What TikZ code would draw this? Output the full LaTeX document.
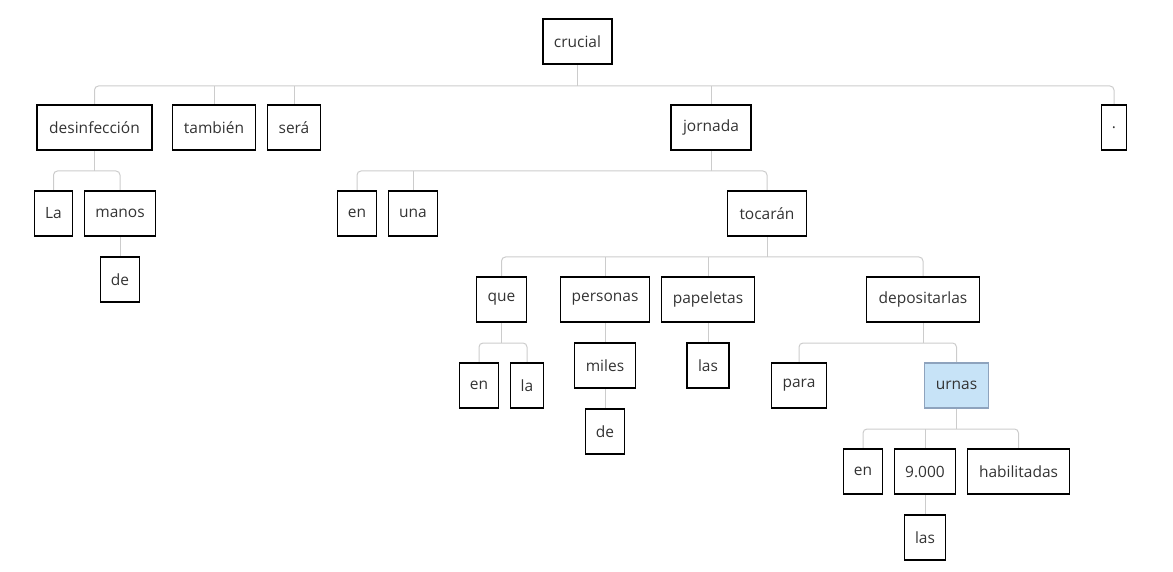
\documentclass[tikz,border=0pt]{standalone}
\usepackage{fontspec}
\setmainfont{Open Sans}
\usetikzlibrary{backgrounds}
\definecolor{txt}{HTML}{333333}
\definecolor{conncol}{HTML}{CCCCCC}
\definecolor{hlfill}{HTML}{C7E3F7}
\definecolor{hldraw}{HTML}{8EA3BD}
\tikzset{
  wbox/.style={draw=black, line width=1.2pt, text=txt, minimum height=45pt, inner xsep=1pt, inner ysep=0pt, font=\fontsize{15.5}{18}\selectfont, anchor=center},
  hlbox/.style={wbox, fill=hlfill, draw=hldraw},
  conn/.style={draw=conncol, line width=1pt},
  bus/.style={conn, rounded corners=4pt},
}
\begin{document}
\begin{tikzpicture}[x=1pt, y=-1pt]
\useasboundingbox (0,0) rectangle (1173,572);
% nodes
\node[wbox, minimum width=69pt] (crucial) at (577.5,41.5) {crucial};
\node[wbox, minimum width=115pt] (desinf) at (94.5,127.5) {desinfección};
\node[wbox, minimum width=83pt] (tambien) at (214,127.5) {también};
\node[wbox, minimum width=53pt] (sera) at (294,127.5) {será};
\node[wbox, minimum width=80pt] (jornada) at (711,127.5) {jornada};
\node[wbox, minimum width=25pt] (punto) at (1114,127.5) {.};
\node[wbox, minimum width=38pt] (la1) at (53.5,213.5) {La};
\node[wbox, minimum width=71pt] (manos) at (120,213.5) {manos};
\node[wbox, minimum width=39pt] (de1) at (120,279.5) {de};
\node[wbox, minimum width=39pt] (en1) at (357,213.5) {en};
\node[wbox, minimum width=49pt] (una) at (413,213.5) {una};
\node[wbox, minimum width=79pt] (tocaran) at (767,213.5) {tocarán};
\node[wbox, minimum width=50pt] (que) at (501.5,299.5) {que};
\node[wbox, minimum width=89pt] (personas) at (605,299.5) {personas};
\node[wbox, minimum width=93pt] (papeletas) at (708,299.5) {papeletas};
\node[wbox, minimum width=113pt] (deposit) at (923,299.5) {depositarlas};
\node[wbox, minimum width=39pt] (en2) at (479,385.5) {en};
\node[wbox, minimum width=33pt] (la2) at (527,385.5) {la};
\node[wbox, minimum width=61pt] (miles) at (605,365.5) {miles};
\node[wbox, minimum width=39pt] (de2) at (605,431.5) {de};
\node[wbox, minimum width=42pt] (las1) at (708,365.5) {las};
\node[wbox, minimum width=55pt] (para) at (799,385.5) {para};
\node[hlbox, minimum width=64pt] (urnas) at (956.5,385.5) {urnas};
\node[wbox, minimum width=39pt] (en3) at (863,471.5) {en};
\node[wbox, minimum width=61pt] (nueve) at (925,471.5) {9.000};
\node[wbox, minimum width=102pt] (habil) at (1018.5,471.5) {habilitadas};
\node[wbox, minimum width=41pt] (las2) at (925,537.5) {las};
% bus levels
\coordinate (b0) at (0,86);
\coordinate (b1) at (0,171);
\coordinate (b2) at (0,257);
\coordinate (b3) at (0,343);
\coordinate (b4) at (0,429);
\begin{scope}[on background layer]
% crucial
\draw[conn] (crucial.south) -- (crucial.south |- b0);
\draw[bus] (desinf.north) -- (desinf.north |- b0) -- (punto.north |- b0) -- (punto.north);
\draw[conn] (tambien.north) -- (tambien.north |- b0);
\draw[conn] (sera.north) -- (sera.north |- b0);
\draw[conn] (jornada.north) -- (jornada.north |- b0);
% desinfeccion
\draw[conn] (desinf.south) -- (desinf.south |- b1);
\draw[bus] (la1.north) -- (la1.north |- b1) -- (manos.north |- b1) -- (manos.north);
\draw[conn] (manos.south) -- (de1.north);
% jornada
\draw[conn] (jornada.south) -- (jornada.south |- b1);
\draw[bus] (en1.north) -- (en1.north |- b1) -- (tocaran.north |- b1) -- (tocaran.north);
\draw[conn] (una.north) -- (una.north |- b1);
% tocaran
\draw[conn] (tocaran.south) -- (tocaran.south |- b2);
\draw[bus] (que.north) -- (que.north |- b2) -- (deposit.north |- b2) -- (deposit.north);
\draw[conn] (personas.north) -- (personas.north |- b2);
\draw[conn] (papeletas.north) -- (papeletas.north |- b2);
% que
\draw[conn] (que.south) -- (que.south |- b3);
\draw[bus] (en2.north) -- (en2.north |- b3) -- (la2.north |- b3) -- (la2.north);
% personas, miles, papeletas
\draw[conn] (personas.south) -- (miles.north);
\draw[conn] (miles.south) -- (de2.north);
\draw[conn] (papeletas.south) -- (las1.north);
% depositarlas
\draw[conn] (deposit.south) -- (deposit.south |- b3);
\draw[bus] (para.north) -- (para.north |- b3) -- (urnas.north |- b3) -- (urnas.north);
% urnas
\draw[conn] (urnas.south) -- (urnas.south |- b4);
\draw[bus] (en3.north) -- (en3.north |- b4) -- (habil.north |- b4) -- (habil.north);
\draw[conn] (nueve.north) -- (nueve.north |- b4);
\draw[conn] (nueve.south) -- (las2.north);
\end{scope}
\end{tikzpicture}
\end{document}
